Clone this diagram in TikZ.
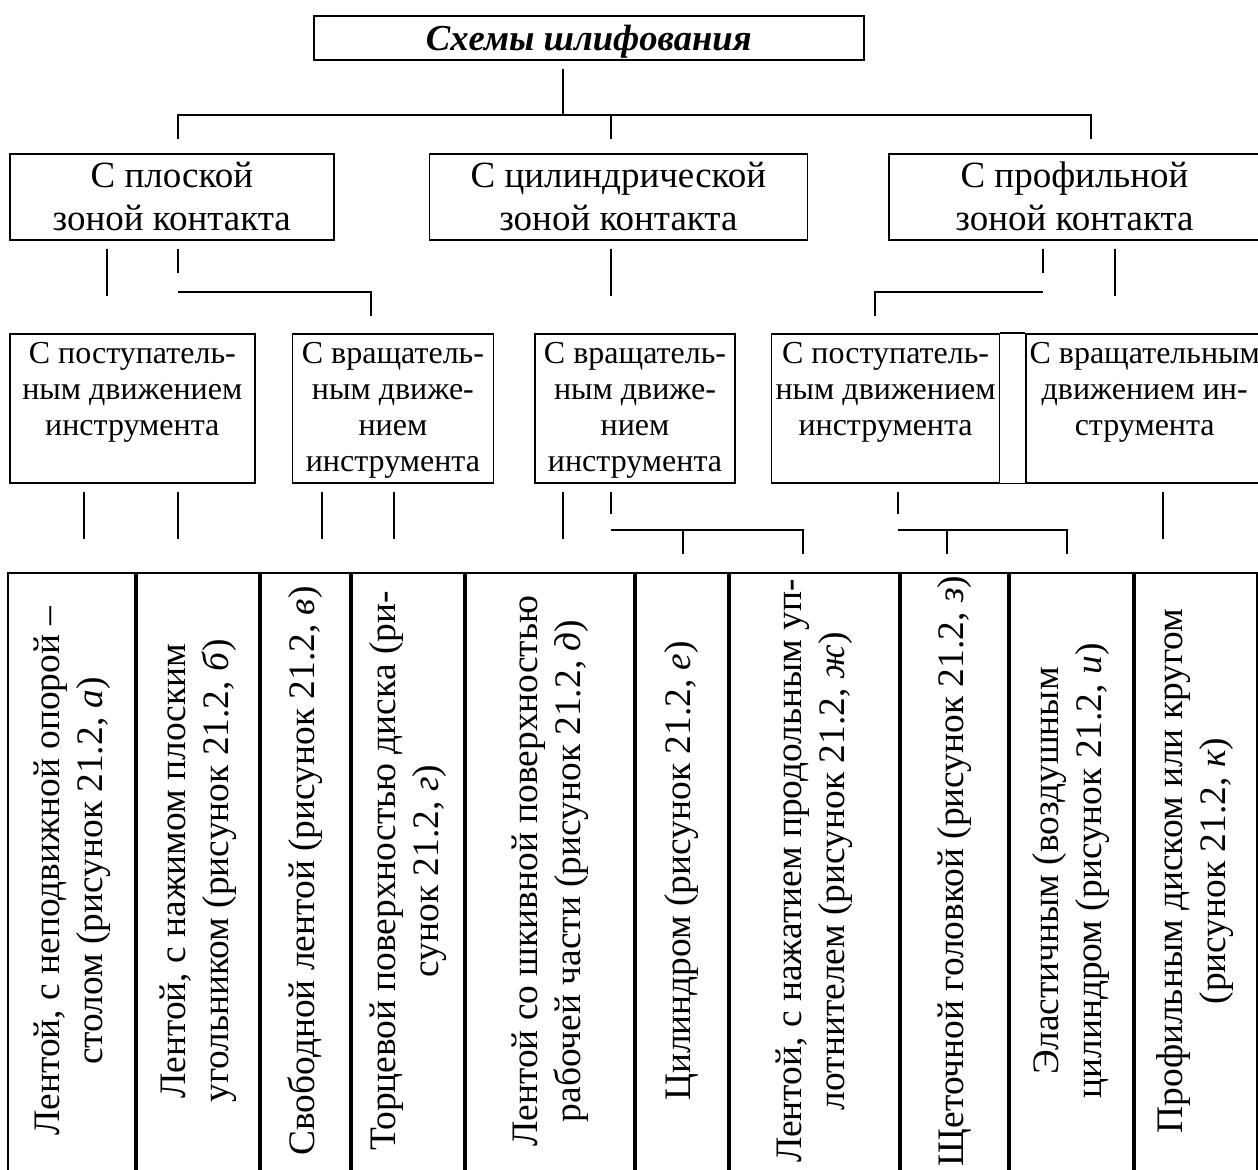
\documentclass[tikz,border=0pt]{standalone}
\usepackage{fontspec}
\setmainfont{Liberation Serif}
\usetikzlibrary{positioning}
\tikzset{
  sk/.style={x=0.5pt, y=-0.5pt, line width=0.8pt},
  box/.style={draw, anchor=north west, inner xsep=0pt, inner ysep=0pt, align=center},
  head/.style={box, font=\bfseries\itshape\fontsize{18.3}{20}\selectfont, text height=17.5pt, text depth=4.5pt},
  zone/.style={box, font=\fontsize{18.5}{21.5}\selectfont, text height=38.5pt, text depth=4.5pt},
  move/.style={box, font=\fontsize{16}{18}\selectfont, text height=69pt, text depth=5.5pt},
  move3/.style={move, text height=51pt, text depth=23.5pt},
  cell/.style={rotate=90, inner sep=0pt, align=center, font=\fontsize{18.7}{21.5}\selectfont, minimum width=297pt},
  link/.style={line width=0.6pt},
}
\begin{document}
\begin{tikzpicture}[sk]
\useasboundingbox (0,0) rectangle (1258,1169);

% top
\node[head, minimum width=275pt] (title) at (313,15) {Схемы шлифования};

% contact zones
\node[zone, minimum width=162pt] (flat) at (9,153) {С плоской\\зоной контакта};
\node[zone, minimum width=189pt, right=47pt of flat] (cyl) {С цилиндрической\\зоной контакта};
\node[zone, minimum width=185.5pt, right=40pt of cyl] (prof) {С профильной\\зоной контакта};

% tool motion
\node[move3, minimum width=122.5pt] (transA) at (9,333) {С поступатель-\\ным движением\\инструмента};
\node[move, minimum width=100.5pt, right=18pt of transA] (rotA) {С вращатель-\\ным движе-\\нием\\инструмента};
\node[move, minimum width=100pt, right=20pt of rotA] (rotB) {С вращатель-\\ным движе-\\нием\\инструмента};
\node[move3, minimum width=114pt, right=17.5pt of rotB] (transB) {С поступатель-\\ным движением\\инструмента};
\node[move3, minimum width=118.5pt, right=12.5pt of transB] (rotC) {С вращательным\\движением ин-\\струмента};
\draw (transB.north east) -- (rotC.north west);
\draw (transB.south east) -- (rotC.south west);

% schemes (table, open at the bottom)
\node[cell, minimum height=63.5pt] (k1) at (72.5,871) {Лентой, с неподвижной опорой –\\столом (рисунок 21.2, \textit{а})};
\node[cell, minimum height=62pt] (k2) at (198,871) {Лентой, с нажимом плоским\\угольником (рисунок 21.2, \textit{б})};
\node[cell, minimum height=45.5pt] (k3) at (305.5,871) {Свободной лентой (рисунок 21.2, \textit{в})};
\node[cell, minimum height=57pt] (k4) at (408,871) {Торцевой поверхностью диска (ри-\\сунок 21.2, \textit{г})};
\node[cell, minimum height=85pt] (k5) at (550,871) {Лентой со шкивной поверхностью\\рабочей части (рисунок 21.2, \textit{д})};
\node[cell, minimum height=47pt] (k6) at (682,871) {Цилиндром (рисунок 21.2, \textit{е})};
\node[cell, minimum height=85.5pt] (k7) at (814.5,871) {Лентой, с нажатием продольным уп-\\лотнителем (рисунок 21.2, \textit{ж})};
\node[cell, minimum height=54.5pt] (k8) at (954.5,871) {Щеточной головкой (рисунок 21.2, \textit{з})};
\node[cell, minimum height=62.5pt] (k9) at (1071.5,871) {Эластичным (воздушным\\цилиндром (рисунок 21.2, \textit{и})};
\node[cell, minimum height=61pt] (k10) at (1195,871) {Профильным диском или кругом\\(рисунок 21.2, \textit{к})};
\foreach \k in {k1,k2,k3,k4,k5,k6,k7,k8,k9,k10}
  \draw ([yshift=-2pt]\k.north west) -- (\k.north east) -- (\k.south east) -- ([yshift=-2pt]\k.south west);

% junctions
\coordinate (j0) at (563,115);
\coordinate (b1) at (178,115);
\coordinate (b2) at (611,115);
\coordinate (b3) at (1091,115);
\coordinate (c1) at (107,296);
\coordinate (c2) at (178,273);
\coordinate (c3) at (178,292);
\coordinate (c4) at (371,292);
\coordinate (c5) at (611,296);
\coordinate (c6) at (1043,273);
\coordinate (c7) at (1115,296);
\coordinate (c8) at (1043,292);
\coordinate (c9) at (875,292);
\coordinate (d1) at (84,539);
\coordinate (d2) at (178,539);
\coordinate (d3) at (322,539);
\coordinate (d4) at (394,539);
\coordinate (d5) at (563,539);
\coordinate (d6) at (611,514);
\coordinate (d7) at (898,514);
\coordinate (d8) at (1163,539);
\coordinate (e1) at (611,530);
\coordinate (e3) at (683,554);
\coordinate (e4) at (803,554);
\coordinate (f1) at (898,530);
\coordinate (f3) at (947,554);
\coordinate (f4) at (1067,554);

\draw[link, shorten <=4pt] (title.south -| j0) -- (j0);
\draw[link, shorten <=7pt, shorten >=7pt] (flat.north -| b1) |- (b3) -- (prof.north -| b3);
\draw[link, shorten >=7pt] (b2) -- (cyl.north -| b2);

\draw[link, shorten <=4pt] (flat.south -| c1) -- (c1);
\draw[link, shorten <=4pt] (flat.south -| c2) -- (c2);
\draw[link, shorten >=8.5pt] (c3) -- (c4) -- (rotA.north -| c4);
\draw[link, shorten <=4pt] (cyl.south -| c5) -- (c5);
\draw[link, shorten <=4pt] (prof.south -| c6) -- (c6);
\draw[link, shorten <=4pt] (prof.south -| c7) -- (c7);
\draw[link, shorten >=8.5pt] (c8) -- (c9) -- (transB.north -| c9);

\draw[link, shorten <=4pt] (transA.south -| d1) -- (d1);
\draw[link, shorten <=4pt] (transA.south -| d2) -- (d2);
\draw[link, shorten <=4pt] (rotA.south -| d3) -- (d3);
\draw[link, shorten <=4pt] (rotA.south -| d4) -- (d4);
\draw[link, shorten <=4pt] (rotB.south -| d5) -- (d5);
\draw[link, shorten <=4pt] (rotB.south -| d6) -- (d6);
\draw[link] (e1) -| (e4);
\draw[link] (e3 |- e1) -- (e3);
\draw[link, shorten <=4pt] (transB.south -| d7) -- (d7);
\draw[link] (f1) -| (f4);
\draw[link] (f3 |- f1) -- (f3);
\draw[link, shorten <=4pt] (rotC.south -| d8) -- (d8);
\end{tikzpicture}
\end{document}
